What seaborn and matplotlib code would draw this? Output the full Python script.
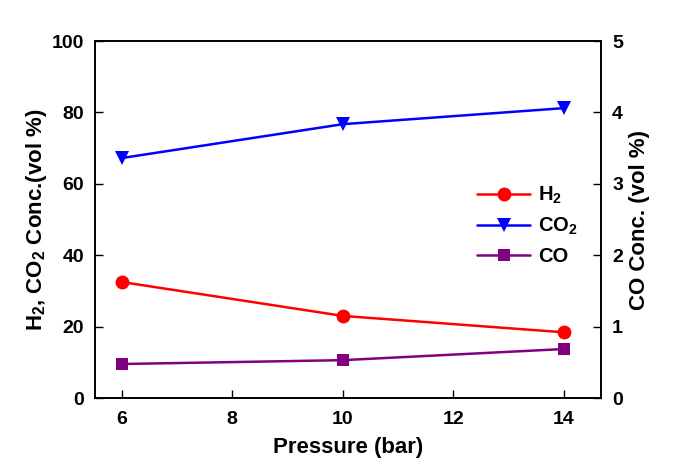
import matplotlib
matplotlib.use("Agg")
import matplotlib.pyplot as plt
import seaborn as sns
import pandas as pd

pressure = [6, 10, 14]
h2 = [32.5, 23.0, 18.4]
co2 = [67.2, 76.7, 81.2]
co = [0.476, 0.53, 0.686]

sns.set_style("ticks")
plt.rcParams['font.family'] = ['Liberation Sans', 'DejaVu Sans']
plt.rcParams['font.weight'] = 'bold'
plt.rcParams['mathtext.fontset'] = 'custom'
plt.rcParams['mathtext.rm'] = 'Liberation Sans:bold'
plt.rcParams['mathtext.bf'] = 'Liberation Sans:bold'
plt.rcParams['mathtext.default'] = 'bf'
for k in ('text.color', 'axes.labelcolor', 'xtick.color', 'ytick.color', 'axes.edgecolor'):
    plt.rcParams[k] = 'black'

fig = plt.figure(figsize=(6.81, 4.73), dpi=100)
ax = fig.add_axes([95/681, 1 - 398/473, (601-95)/681, (398-41)/473])
ax2 = ax.twinx()

df_left = pd.DataFrame({"p": pressure, "h2": h2, "co2": co2})
df_right = pd.DataFrame({"p": pressure, "co": co})

sns.lineplot(data=df_left, x="p", y="h2", ax=ax, color="#ff0000", marker="o",
             markersize=10, markeredgewidth=0, linewidth=1.8, label=r"H$_2$", legend=False)
sns.lineplot(data=df_left, x="p", y="co2", ax=ax, color="#0000ff", marker="v",
             markersize=10, markeredgewidth=0, linewidth=1.8, label=r"CO$_2$", legend=False)
sns.lineplot(data=df_right, x="p", y="co", ax=ax2, color="#800080", marker="s",
             markersize=9, markeredgewidth=0, linewidth=1.8, label="CO", legend=False)

ax.set_xlim(5.52, 14.67)
ax.set_ylim(0, 100)
ax2.set_ylim(0, 5)
ax.set_xticks([6, 8, 10, 12, 14])
ax.set_yticks([0, 20, 40, 60, 80, 100])
ax2.set_yticks([0, 1, 2, 3, 4, 5])

for a in (ax, ax2):
    for s in a.spines.values():
        s.set_linewidth(1.2)
        s.set_color("black")
    a.tick_params(direction="in", length=6, width=1.0, labelsize=14, pad=8)
ax.tick_params(axis="x", pad=9)

ax.set_xlabel("Pressure (bar)", fontsize=16, fontweight="bold", labelpad=7)
ax.set_ylabel(r"H$_2$, CO$_2$ Conc.(vol %)", fontsize=16, fontweight="bold", labelpad=2)
ax2.set_ylabel("CO Conc. (vol %)", fontsize=16, fontweight="bold", labelpad=4)

h_a, lab_a = ax.get_legend_handles_labels()
h_b, lab_b = ax2.get_legend_handles_labels()
leg = ax2.legend(h_a + h_b, lab_a + lab_b, loc="upper left", bbox_to_anchor=(0.74, 0.62),
                 frameon=False, fontsize=14.5, handlelength=2.6, labelspacing=0.5,
                 borderaxespad=0, handletextpad=0.4)

fig.savefig("out.png", dpi=100)
